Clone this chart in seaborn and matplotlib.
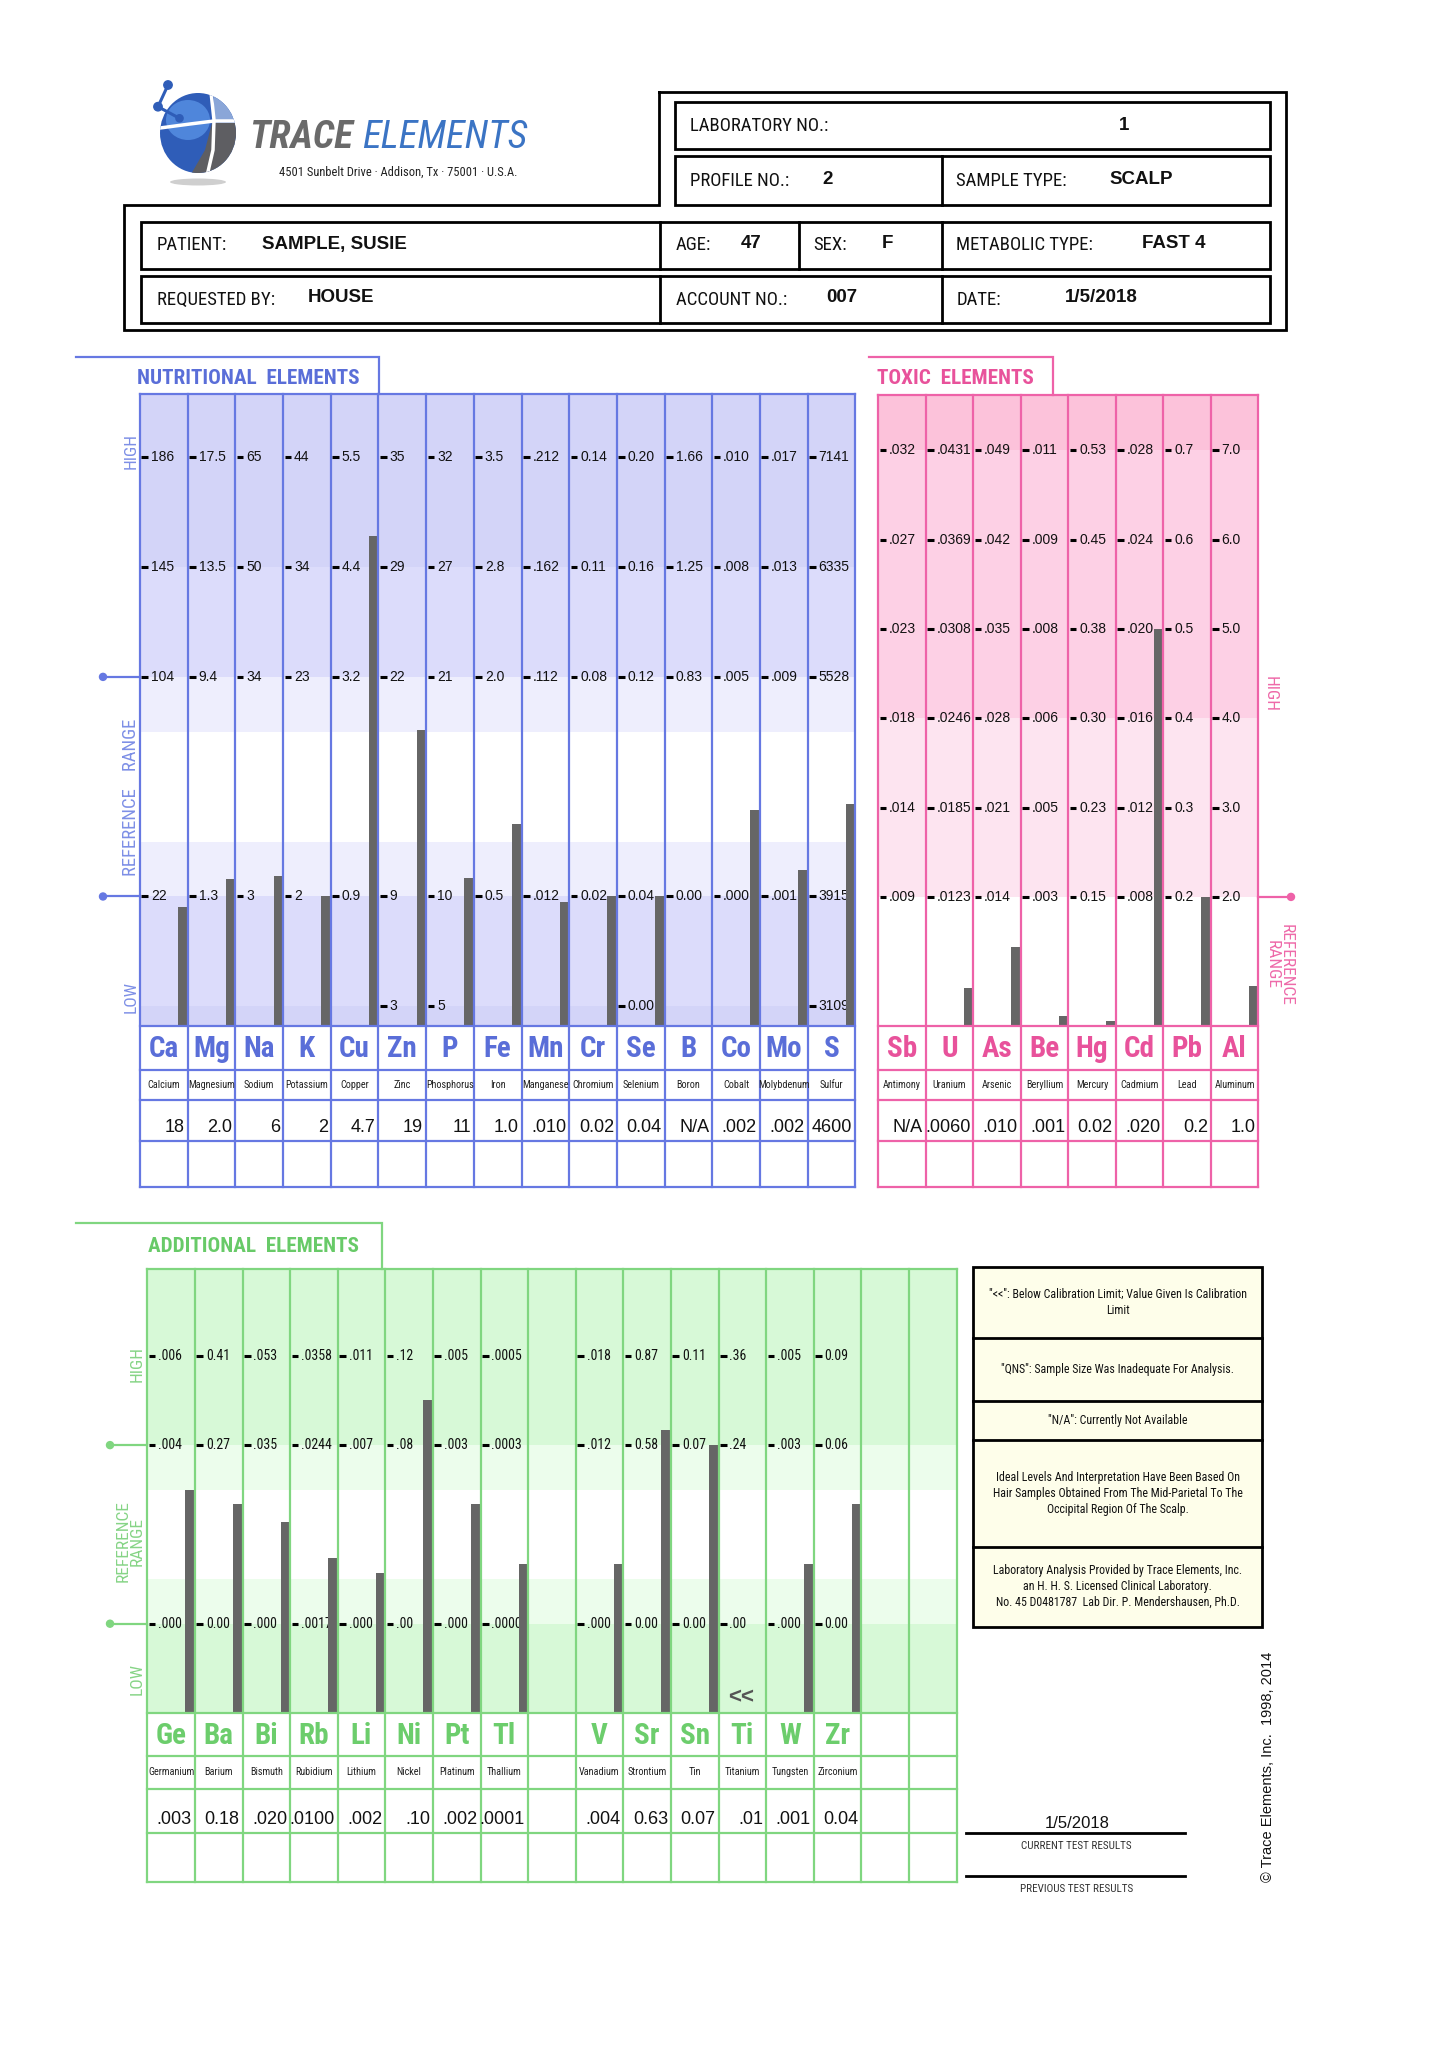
import numpy as np
import pandas as pd
import matplotlib
matplotlib.use('Agg')
import matplotlib.pyplot as plt
import seaborn as sns
from matplotlib import font_manager as fm
from matplotlib.patches import Rectangle, Ellipse, Circle, Polygon

# ------------------------------------------------------------------ data
lab_no = '1'
profile_no = '2'
sample_type = 'SCALP'
patient = 'SAMPLE, SUSIE'
age = '47'
sex = 'F'
metabolic_type = 'FAST 4'
requested_by = 'HOUSE'
account_no = '007'
report_date = '1/5/2018'

nut_symbols = ['Ca', 'Mg', 'Na', 'K', 'Cu', 'Zn', 'P', 'Fe', 'Mn', 'Cr', 'Se', 'B', 'Co', 'Mo', 'S']
nut_names = ['Calcium', 'Magnesium', 'Sodium', 'Potassium', 'Copper', 'Zinc', 'Phosphorus', 'Iron',
             'Manganese', 'Chromium', 'Selenium', 'Boron', 'Cobalt', 'Molybdenum', 'Sulfur']
nut_results = ['18', '2.0', '6', '2', '4.7', '19', '11', '1.0', '.010', '0.02', '0.04', 'N/A', '.002', '.002', '4600']
# bar level on the graph scale (0 = lowest printed row, 1 = low reference line, 3 = high reference line ...)
nut_bar_level = [0.90, 1.16, 1.19, 1.00, 4.28, 2.52, 1.17, 1.66, 0.95, 1.00, 1.00, np.nan, 1.79, 1.24, 1.84]
nut_tick_rows = [5, 4, 3, 1, 0]
nut_ticks = [
    ['186', '145', '104', '22', ''],
    ['17.5', '13.5', '9.4', '1.3', ''],
    ['65', '50', '34', '3', ''],
    ['44', '34', '23', '2', ''],
    ['5.5', '4.4', '3.2', '0.9', ''],
    ['35', '29', '22', '9', '3'],
    ['32', '27', '21', '10', '5'],
    ['3.5', '2.8', '2.0', '0.5', ''],
    ['.212', '.162', '.112', '.012', ''],
    ['0.14', '0.11', '0.08', '0.02', ''],
    ['0.20', '0.16', '0.12', '0.04', '0.00'],
    ['1.66', '1.25', '0.83', '0.00', ''],
    ['.010', '.008', '.005', '.000', ''],
    ['.017', '.013', '.009', '.001', ''],
    ['7141', '6335', '5528', '3915', '3109'],
]

tox_symbols = ['Sb', 'U', 'As', 'Be', 'Hg', 'Cd', 'Pb', 'Al']
tox_names = ['Antimony', 'Uranium', 'Arsenic', 'Beryllium', 'Mercury', 'Cadmium', 'Lead', 'Aluminum']
tox_results = ['N/A', '.0060', '.010', '.001', '0.02', '.020', '0.2', '1.0']
tox_bar_level = [np.nan, -1.015, -0.565, -1.33, -1.39, 3.0, 0.0, -1.0]
tox_tick_rows = [5, 4, 3, 2, 1, 0]
tox_ticks = [
    ['.032', '.027', '.023', '.018', '.014', '.009'],
    ['.0431', '.0369', '.0308', '.0246', '.0185', '.0123'],
    ['.049', '.042', '.035', '.028', '.021', '.014'],
    ['.011', '.009', '.008', '.006', '.005', '.003'],
    ['0.53', '0.45', '0.38', '0.30', '0.23', '0.15'],
    ['.028', '.024', '.020', '.016', '.012', '.008'],
    ['0.7', '0.6', '0.5', '0.4', '0.3', '0.2'],
    ['7.0', '6.0', '5.0', '4.0', '3.0', '2.0'],
]

add_symbols = ['Ge', 'Ba', 'Bi', 'Rb', 'Li', 'Ni', 'Pt', 'Tl', '', 'V', 'Sr', 'Sn', 'Ti', 'W', 'Zr', '', '']
add_names = ['Germanium', 'Barium', 'Bismuth', 'Rubidium', 'Lithium', 'Nickel', 'Platinum', 'Thallium', '',
             'Vanadium', 'Strontium', 'Tin', 'Titanium', 'Tungsten', 'Zirconium', '', '']
add_results = ['.003', '0.18', '.020', '.0100', '.002', '.10', '.002', '.0001', '',
               '.004', '0.63', '0.07', '.01', '.001', '0.04', '', '']
add_bar_level = [1.50, 1.34, 1.14, 0.74, 0.57, 2.50, 1.34, 0.67, np.nan,
                 0.67, 2.17, 2.00, np.nan, 0.67, 1.34, np.nan, np.nan]
add_below_limit = [False, False, False, False, False, False, False, False, False,
                   False, False, False, True, False, False, False, False]
add_tick_rows = [3, 2, 0]
add_ticks = [
    ['.006', '.004', '.000'],
    ['0.41', '0.27', '0.00'],
    ['.053', '.035', '.000'],
    ['.0358', '.0244', '.0017'],
    ['.011', '.007', '.000'],
    ['.12', '.08', '.00'],
    ['.005', '.003', '.000'],
    ['.0005', '.0003', '.0000'],
    ['', '', ''],
    ['.018', '.012', '.000'],
    ['0.87', '0.58', '0.00'],
    ['0.11', '0.07', '0.00'],
    ['.36', '.24', '.00'],
    ['.005', '.003', '.000'],
    ['0.09', '0.06', '0.00'],
    ['', '', ''],
    ['', '', ''],
]

notes = [
    '"<<": Below Calibration Limit; Value Given Is Calibration\nLimit',
    '"QNS": Sample Size Was Inadequate For Analysis.',
    '"N/A": Currently Not Available',
    'Ideal Levels And Interpretation Have Been Based On\nHair Samples Obtained From The Mid-Parietal To The\nOccipital Region Of The Scalp.',
    'Laboratory Analysis Provided by Trace Elements, Inc.\nan H. H. S. Licensed Clinical Laboratory.\nNo. 45 D0481787  Lab Dir. P. Mendershausen, Ph.D.',
]

# ------------------------------------------------------------------ style
sns.set_theme(style='white')
plt.rcParams['font.family'] = ['Liberation Sans', 'DejaVu Sans']


def find_narrow():
    entries = fm.fontManager.ttflist
    names = {f.name for f in entries}
    for fam in ['Liberation Sans Narrow', 'Arial Narrow', 'Roboto Condensed', 'Open Sans Condensed',
                'Noto Sans Condensed']:
        if fam in names:
            return dict(fontfamily=fam), 1.0
    cond = ('condensed', 'semi-condensed', 'extra-condensed', 'ultra-condensed')
    for fam in ['Noto Sans', 'Open Sans', 'Roboto', 'Inter']:
        for f in entries:
            if f.name == fam and str(f.stretch) in cond:
                return dict(fontfamily=fam, fontstretch=str(f.stretch)), 0.95
    return dict(fontfamily='Liberation Sans'), 0.84


NKW, SQ = find_narrow()

BAR = '#666666'
BW = 0.2
W, H = 1440, 2048

NUT = dict(x0=140.0, colw=47.69, n=15, ybot=1025.5, ytop=393.5, unit=109.8, off=0.175,
           table=[1025.5, 1070, 1099.5, 1140.5, 1186.5],
           line='#6678e2', text='#5a6ed8', side='#7d8fe6',
           bands=[(-9, 0, '#d3d4f8'), (0, 1, '#dcdcfb'), (1, 1.5, '#eeeefd'), (1.5, 2.5, '#ffffff'),
                  (2.5, 3, '#eeeefd'), (3, 4, '#dcdcfb'), (4, 99, '#d3d4f8')],
           tickkw=dict(fontfamily='Liberation Sans'), ticksize=10)
TOX = dict(x0=878.3, colw=47.5, n=8, ybot=1025.5, ytop=394.5, unit=89.3, off=1.44,
           table=[1025.5, 1070, 1099.5, 1140.5, 1187],
           line='#ee62a8', text='#e8529b', side='#ee6aa9',
           bands=[(-9, 0, '#ffffff'), (0, 2, '#fde4f0'), (2, 5, '#fdd0e5'), (5, 99, '#fcc2da')],
           tickkw=dict(fontfamily='Liberation Sans'), ticksize=10)
ADD = dict(x0=147.3, colw=47.6, n=17, ybot=1713, ytop=1269.3, unit=89.3, off=1.0,
           table=[1713, 1756, 1788.5, 1833, 1882],
           line='#80d680', text='#6ccd6c', side='#86d486',
           bands=[(-9, 0, '#d7f9d7'), (0, 0.5, '#ecfdec'), (0.5, 1.5, '#ffffff'),
                  (1.5, 2, '#ecfdec'), (2, 99, '#d7f9d7')],
           tickkw=NKW, ticksize=10 * SQ)

fig = plt.figure(figsize=(W / 100, H / 100), dpi=100, facecolor='white')
bg = fig.add_axes([0, 0, 1, 1], zorder=5)
bg.set_xlim(0, W)
bg.set_ylim(H, 0)
bg.set_axis_off()


def ypx(cfg, row):
    return cfg['ybot'] - (row + cfg['off']) * cfg['unit']


def seg(xs, ys, color='black', lw=2.0):
    bg.plot(xs, ys, color=color, lw=lw, solid_capstyle='projecting', solid_joinstyle='miter')


def panel(cfg, symbols, names, results, ticks, tick_rows, levels):
    x0, cw, n, yb, yt, u, off = (cfg[k] for k in ('x0', 'colw', 'n', 'ybot', 'ytop', 'unit', 'off'))
    ax = fig.add_axes([x0 / W, 1 - yb / H, n * cw / W, (yb - yt) / H], zorder=1)
    top = (yb - yt) / u
    for lo, hi, c in cfg['bands']:
        ax.axhspan(max(lo + off, 0), min(hi + off, top), color=c, lw=0, zorder=0)
    df = pd.DataFrame({'pos': np.arange(n) + 1 - BW / 2, 'height': np.array(levels, dtype=float) + off})
    df = df.dropna()
    sns.barplot(data=df, x='pos', y='height', native_scale=True, width=BW, color=BAR,
                saturation=1, errorbar=None, ax=ax, zorder=3, linewidth=0, orient='x')
    for i, labs in enumerate(ticks):
        for r, lab in zip(tick_rows, labs):
            if lab:
                y = r + off
                ax.plot([i + 0.03, i + 0.17], [y, y], color='black', lw=2.2, solid_capstyle='butt', zorder=2)
                ax.text(i + 0.23, y, lab, ha='left', va='center', fontsize=cfg['ticksize'],
                        color='#111111', zorder=2, **cfg['tickkw'])
    ax.set_xlim(0, n)
    ax.set_ylim(0, top)
    ax.set_axis_off()

    # grid & table
    xr = x0 + n * cw
    tb = cfg['table']
    seg([x0, xr], [yt, yt], cfg['line'], 1.6)
    for k in range(n + 1):
        seg([x0 + k * cw, x0 + k * cw], [yt, tb[-1]], cfg['line'], 1.6)
    for y in tb:
        seg([x0, xr], [y, y], cfg['line'], 1.6)
    for i in range(n):
        cx = x0 + (i + 0.5) * cw
        if symbols[i]:
            bg.text(cx, (tb[0] + tb[1]) / 2 + 1, symbols[i], ha='center', va='center',
                    fontsize=21 * SQ if SQ < 0.9 else 21, fontweight='bold', color=cfg['text'], **NKW)
        if names[i]:
            bg.text(cx, (tb[1] + tb[2]) / 2, names[i], ha='center', va='center',
                    fontsize=7.3 * SQ, color='#222222', **NKW)
        if results[i]:
            bg.text(x0 + (i + 1) * cw - 3, tb[3] - 13, results[i], ha='right', va='center',
                    fontsize=13, color='#111111')
    return ax


ax_nut = panel(NUT, nut_symbols, nut_names, nut_results, nut_ticks, nut_tick_rows, nut_bar_level)
ax_tox = panel(TOX, tox_symbols, tox_names, tox_results, tox_ticks, tox_tick_rows, tox_bar_level)
ax_add = panel(ADD, add_symbols, add_names, add_results, add_ticks, add_tick_rows, add_bar_level)

for i, flag in enumerate(add_below_limit):
    if flag:
        ax_add.text(i + 0.47, 0.17, '<<', ha='center', va='center', fontsize=16,
                    fontweight='bold', color='#555555', zorder=4)

# tabs / titles
TSZ = 15.5 * SQ if SQ < 0.9 else 15.2
seg([76, 379.3, 379.3], [356.7, 356.7, NUT['ytop']], NUT['line'], 1.6)
bg.text(137, 379, 'NUTRITIONAL  ELEMENTS', ha='left', va='center', fontsize=TSZ,
        fontweight='bold', color=NUT['text'], **NKW)
seg([869, 1053, 1053], [356.7, 356.7, TOX['ytop']], TOX['line'], 1.6)
bg.text(877, 379, 'TOXIC  ELEMENTS', ha='left', va='center', fontsize=TSZ,
        fontweight='bold', color=TOX['text'], **NKW)
seg([76, 381.7, 381.7], [1222.7, 1222.7, ADD['ytop']], ADD['line'], 1.6)
bg.text(148, 1247, 'ADDITIONAL  ELEMENTS', ha='left', va='center', fontsize=TSZ,
        fontweight='bold', color='#68ca68', **NKW)

# side labels & reference markers
SSZ = 12.5 * SQ
for row in (3, 1):
    y = ypx(NUT, row)
    seg([103, NUT['x0']], [y, y], NUT['line'], 1.6)
    bg.add_patch(Circle((103, y), 3.5, color=NUT['line'], zorder=6))
bg.text(131, 451, 'HIGH', rotation=90, ha='center', va='center', fontsize=SSZ, color=NUT['side'], **NKW)
bg.text(131, 797, 'REFERENCE    RANGE', rotation=90, ha='center', va='center', fontsize=SSZ * 1.08,
        color=NUT['side'], **NKW)
bg.text(131, 997, 'LOW', rotation=90, ha='center', va='center', fontsize=SSZ, color=NUT['side'], **NKW)

y = ypx(TOX, 0)
txr = TOX['x0'] + TOX['n'] * TOX['colw']
seg([txr, 1291], [y, y], TOX['line'], 1.6)
bg.add_patch(Circle((1291, y), 3.5, color=TOX['line'], zorder=6))
bg.text(1270, 694, 'HIGH', rotation=270, ha='center', va='center', fontsize=SSZ, color=TOX['side'], **NKW)
bg.text(1279, 965, 'REFERENCE\nRANGE', rotation=270, ha='center', va='center', fontsize=SSZ,
        color=TOX['side'], linespacing=0.9, **NKW)

for row in (2, 0):
    y = ypx(ADD, row)
    seg([110, ADD['x0']], [y, y], ADD['line'], 1.6)
    bg.add_patch(Circle((110, y), 3.5, color=ADD['line'], zorder=6))
bg.text(137, 1364, 'HIGH', rotation=90, ha='center', va='center', fontsize=SSZ, color=ADD['side'], **NKW)
bg.text(130, 1541, 'REFERENCE\nRANGE', rotation=90, ha='center', va='center', fontsize=SSZ,
        color=ADD['side'], linespacing=0.9, **NKW)
bg.text(137, 1679, 'LOW', rotation=90, ha='center', va='center', fontsize=SSZ, color=ADD['side'], **NKW)

# ------------------------------------------------------------------ header
seg([659, 1286, 1286, 124, 124, 659, 659], [92, 92, 330, 330, 205, 205, 92], 'black', 2.0)
bg.add_patch(Rectangle((674.5, 101.7), 595.5, 47.6, fill=False, ec='black', lw=2.0))
bg.add_patch(Rectangle((674.5, 156), 595.5, 49, fill=False, ec='black', lw=2.0))
seg([941.8, 941.8], [156, 205])
bg.add_patch(Rectangle((141, 221.7), 1129, 47.3, fill=False, ec='black', lw=2.0))
seg([660.3, 660.3], [221.7, 269]); seg([798.7, 798.7], [221.7, 269]); seg([941.8, 941.8], [221.7, 269])
bg.add_patch(Rectangle((141, 276), 1129, 47.3, fill=False, ec='black', lw=2.0))
seg([660.3, 660.3], [276, 323.3]); seg([941.8, 941.8], [276, 323.3])


def hlab(x, y, s):
    bg.text(x, y, s, ha='left', va='center', fontsize=13.5 * SQ, color='#111111', **NKW)


def hval(x, y, s, ha='center'):
    bg.text(x, y, s, ha=ha, va='center', fontsize=13.5, fontweight='bold', color='#111111')


hlab(690, 126, 'LABORATORY NO.:'); hval(1124, 125, lab_no)
hlab(690, 181, 'PROFILE NO.:'); hval(828, 180, profile_no)
hlab(956.5, 181, 'SAMPLE TYPE:'); hval(1141, 180, sample_type)
hlab(157, 245, 'PATIENT:'); hval(262, 244, patient, ha='left')
hlab(675.6, 245, 'AGE:'); hval(751, 244, age)
hlab(812.8, 245, 'SEX:'); hval(887, 244, sex)
hlab(956.5, 245, 'METABOLIC TYPE:'); hval(1174, 244, metabolic_type)
hlab(157, 300, 'REQUESTED BY:'); hval(308, 298, requested_by, ha='left')
hlab(675.6, 300, 'ACCOUNT NO.:'); hval(842, 298, account_no)
hlab(956.5, 300, 'DATE:'); hval(1101, 298, report_date)

# logo
bg.add_patch(Ellipse((198, 182), 56, 7, color='#cfcfcf', lw=0))
sphere = Ellipse((198, 133), 76, 80, color='#2f5db8', lw=0)
bg.add_patch(sphere)
hl = Ellipse((188, 120), 44, 40, color='#4f86db', lw=0)
bg.add_patch(hl)
hl.set_clip_path(sphere)
gray = Polygon([(212, 123), (240, 123), (240, 176), (190, 176), (205, 150)], closed=True,
               color='#5e5e62', lw=0)
bg.add_patch(gray)
gray.set_clip_path(sphere)
g2 = Polygon([(214, 92), (240, 92), (240, 121), (214, 121)], closed=True, color='#8aa6d8', lw=0)
bg.add_patch(g2)
g2.set_clip_path(sphere)
l1, = bg.plot([211, 214, 213, 207], [92, 120, 150, 176], color='white', lw=2.5)
l1.set_clip_path(sphere)
l2, = bg.plot([160, 190, 214, 238], [128, 124, 121, 121], color='white', lw=2.5)
l2.set_clip_path(sphere)
bg.plot([168, 158, 179.5], [85, 106.7, 118.3], color='#2f5db8', lw=2.2)
for cx, cy, r in [(168, 85, 4.2), (158, 106.7, 4.2), (179.5, 118.3, 3.6)]:
    bg.add_patch(Circle((cx, cy), r, color='#2f5db8', zorder=6))
bg.text(249, 137, 'TRACE', ha='left', va='center', fontsize=28 * SQ, fontweight='bold',
        fontstyle='italic', color='#6a6a6a', **NKW)
bg.text(362, 137, 'ELEMENTS', ha='left', va='center', fontsize=28 * SQ,
        fontstyle='italic', color='#3b74c4', **NKW)
bg.text(398, 172, '4501 Sunbelt Drive · Addison, Tx · 75001 · U.S.A.', ha='center', va='center',
        fontsize=9 * SQ, color='#222222', **NKW)

# ------------------------------------------------------------------ notes box
note_y = [1267.3, 1338.3, 1400.7, 1440, 1546.7, 1626.7]
bg.add_patch(Rectangle((973.3, note_y[0]), 289, note_y[-1] - note_y[0], fc='#fefeea', ec='black', lw=2.0))
for k in range(1, len(note_y) - 1):
    seg([973.3, 1262.3], [note_y[k], note_y[k]], 'black', 2.0)
for k, s in enumerate(notes):
    bg.text(1117.8, (note_y[k] + note_y[k + 1]) / 2, s, ha='center', va='center', fontsize=8.6 * SQ,
            color='#111111', linespacing=1.3, **NKW)

# ------------------------------------------------------------------ footer
bg.text(1076.7, 1823, report_date, ha='center', va='center', fontsize=12, color='#111111')
seg([966, 1185], [1832.7, 1832.7], 'black', 2.0)
bg.text(1076.7, 1846, 'CURRENT TEST RESULTS', ha='center', va='center', fontsize=8 * SQ,
        color='#333333', **NKW)
seg([966, 1185], [1875.7, 1875.7], 'black', 2.0)
bg.text(1076.7, 1889, 'PREVIOUS TEST RESULTS', ha='center', va='center', fontsize=8 * SQ,
        color='#333333', **NKW)
bg.text(1268, 1767, '© Trace Elements, Inc.  1998, 2014', rotation=90, ha='center', va='center',
        fontsize=10.5, color='#111111')

fig.savefig('out.png', dpi=100, facecolor='white')
